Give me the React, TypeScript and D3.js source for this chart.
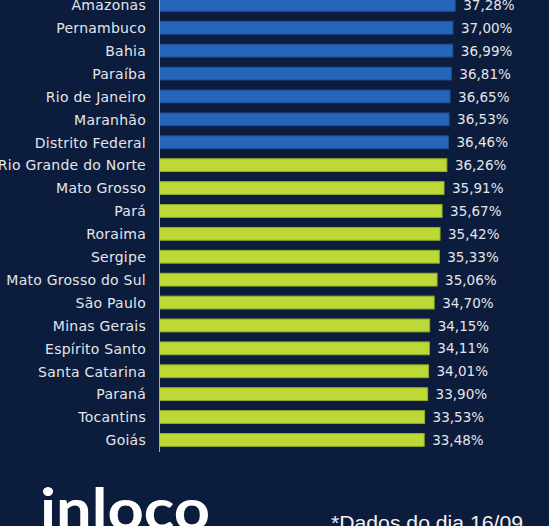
import React from "react";
import * as d3 from "d3";

const states = [
  "Amazonas", "Pernambuco", "Bahia", "Paraíba", "Rio de Janeiro", "Maranhão",
  "Distrito Federal", "Rio Grande do Norte", "Mato Grosso", "Pará", "Roraima",
  "Sergipe", "Mato Grosso do Sul", "São Paulo", "Minas Gerais", "Espírito Santo",
  "Santa Catarina", "Paraná", "Tocantins", "Goiás",
];
const values = [
  37.28, 37.0, 36.99, 36.81, 36.65, 36.53, 36.46, 36.26, 35.91, 35.67, 35.42,
  35.33, 35.06, 34.7, 34.15, 34.11, 34.01, 33.9, 33.53, 33.48,
];
const groups = [
  "alto", "alto", "alto", "alto", "alto", "alto", "alto",
  "medio", "medio", "medio", "medio", "medio", "medio", "medio", "medio",
  "medio", "medio", "medio", "medio", "medio",
];
const groupNames = ["alto", "medio"];
const groupFill = ["#2566bb", "#bdd936"];
const groupStroke = ["#1c4f93", "#95ab2a"];

const W = 549;
const H = 526;

export default function App() {
  const x = d3.scaleLinear().domain([0, 40]).range([151, 477.4]);
  const y = d3
    .scaleBand<string>()
    .domain(states)
    .range([-6.6, 22.9 * 20 - 6.6])
    .paddingInner(0.44)
    .paddingOuter(0.22);
  const color = d3.scaleOrdinal<string, string>().domain(groupNames).range(groupFill);
  const stroke = d3.scaleOrdinal<string, string>().domain(groupNames).range(groupStroke);
  const axisX = 159.5;
  const fmt = (v: number) => v.toFixed(2).replace(".", ",") + "%";
  const font = "'DejaVu Sans', sans-serif";

  return (
    <svg
      width={W}
      height={H}
      style={{ position: "absolute", left: 0, top: 0, display: "block" }}
    >
      <rect x={0} y={0} width={W} height={H} fill="#0c1c3c" />
      {states.map((s, i) => {
        const by = y(s)!;
        const bh = y.bandwidth();
        const cy = by + bh / 2;
        const xe = x(values[i]);
        return (
          <g key={s}>
            <rect
              x={axisX}
              y={by}
              width={xe - axisX}
              height={bh}
              fill={color(groups[i])}
              stroke={stroke(groups[i])}
              strokeWidth={1}
            />
            <text
              x={146}
              y={cy}
              dy="0.38em"
              textAnchor="end"
              fill="#e4e5ea"
              fontFamily={font}
              fontSize={14}
              letterSpacing={0.25}
            >
              {s}
            </text>
            <text
              x={xe + 8}
              y={cy}
              dy="0.38em"
              textAnchor="start"
              fill="#e4e5ea"
              fontFamily={font}
              fontSize={13.5}
            >
              {fmt(values[i])}
            </text>
          </g>
        );
      })}
      <line x1={axisX} x2={axisX} y1={0} y2={452} stroke="#a3a8b5" strokeWidth={1} />
      <text
        x={40}
        y={530}
        fill="#ffffff"
        fontFamily="Lato, 'Open Sans', sans-serif"
        fontWeight={700}
        fontSize={58}
        textLength={170}
        lengthAdjust="spacingAndGlyphs"
      >
        inloco
      </text>
      <text
        x={331}
        y={530}
        fill="#f2f2f2"
        fontFamily="'Liberation Sans', Arial, sans-serif"
        fontSize={21}
        textLength={192}
        lengthAdjust="spacingAndGlyphs"
      >
        *Dados do dia 16/09
      </text>
    </svg>
  );
}
